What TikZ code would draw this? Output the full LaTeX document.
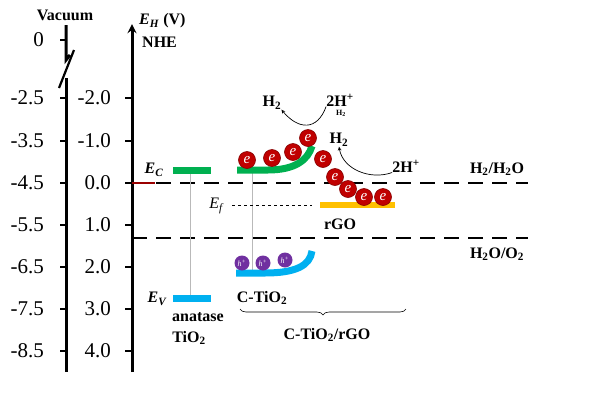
\documentclass[tikz,border=0pt]{standalone}
\usepackage{fontspec}
\setmainfont{Liberation Serif}
\usetikzlibrary{positioning,decorations.pathreplacing}
\tikzset{>=stealth}
\definecolor{cbGreen}{RGB}{0,176,80}
\definecolor{vbBlue}{RGB}{0,176,240}
\definecolor{rgoOrange}{RGB}{255,192,0}
\definecolor{elecRed}{RGB}{192,0,0}
\definecolor{holePurple}{RGB}{112,48,160}
\colorlet{penColor}{black}
\tikzset{
  axis/.style={penColor, line width=3pt},
  tick/.style={penColor, line width=2.2pt},
  ticklab/.style={anchor=east, inner sep=0pt, font=\fontsize{21}{21}\selectfont},
  lab/.style={inner sep=0pt, font=\fontsize{16}{16}\selectfont\bfseries},
  redox/.style={penColor, line width=2.6pt, dash pattern=on 15pt off 9pt},
  band/.style={line width=7pt},
  elec/.style={circle, fill=elecRed, draw=elecRed!70!black, line width=0.6pt, minimum size=17pt, inner sep=0pt, text=white, font=\fontsize{15}{15}\selectfont\itshape},
  hole/.style={circle, fill=holePurple, minimum size=15pt, inner sep=0pt, text=white, font=\fontsize{8}{8}\selectfont\itshape},
}
\begin{document}
\begin{tikzpicture}[x=1pt,y=-1pt]
\useasboundingbox (0,0) rectangle (598,397);
% vacuum scale with break
\draw[axis] (66,25) -- (66,60) -- (70,55);
\draw[axis, line width=2.2pt] (74,50) -- (59,88);
\draw[axis] (66,78) -- (66,372);
\draw[tick] (60,40) -- (66,40);
\node[ticklab] (v0) at (44,40) {0};
\foreach \y/\lab in {98/-2.5,141/-3.5,183/-4.5,225/-5.5,267/-6.5,309/-7.5,351/-8.5}{
  \draw[tick] (60,\y) -- (66,\y);
  \node[ticklab] at (44,\y) {\lab};
}
\node[lab] (vac) at (65,15) {Vacuum};
% NHE scale
\draw[axis,->] (132,372) -- (132,24);
\foreach \y/\lab in {98/-2.0,141/-1.0,183/0.0,225/1.0,267/2.0,309/3.0,351/4.0}{
  \draw[tick] (125,\y) -- (132,\y);
  \node[ticklab] at (111,\y) {\lab};
}
\node[lab, anchor=west] (eh) at (139,21) {\textit{E}\textsubscript{\textit{H}} (V)};
\node[lab, anchor=west] (nhe) at (142,42) {NHE};
% redox levels
\draw[redox] (132,183) -- (528,183);
\draw[elecRed!80!black, line width=2pt] (132,183) -- (155,183);
\draw[redox] (132,238) -- (528,238);
\node[lab] (h2h2o) at (497,169) {H\textsubscript{2}/H\textsubscript{2}O};
\node[lab] (h2oo2) at (497,254) {H\textsubscript{2}O/O\textsubscript{2}};
% guide lines
\draw[gray!55, line width=0.6pt] (190,170) -- (190,298);
\draw[gray!55, line width=0.6pt] (252,170) -- (252,272);
% anatase bands
\draw[band, cbGreen] (173,170) -- (211,170);
\draw[band, vbBlue] (173,298) -- (211,298);
\node[lab, font=\fontsize{16}{16}\selectfont\bfseries\itshape] (ec) at (154,170) {E\textsubscript{C}};
\node[lab, font=\fontsize{16}{16}\selectfont\bfseries\itshape] (ev) at (157,299) {E\textsubscript{V}};
\node[lab] (ana) at (198,317) {anatase};
\node[lab] (tio) at (189,338) {TiO\textsubscript{2}};
% C-TiO2 bands
\draw[band, cbGreen] (237,170) -- (268,170) .. controls (295,170) and (308,160) .. (312,146);
\draw[band, vbBlue] (236,273) -- (265,273) .. controls (295,273) and (310,266) .. (312,251);
\node[lab] (ctio) at (262,298) {C-TiO\textsubscript{2}};
% rGO
\draw[penColor, dashed, line width=0.7pt] (232,205) -- (312,205);
\node[inner sep=0pt, font=\fontsize{16}{16}\selectfont\itshape] (ef) at (216,206) {E\textsubscript{f}};
\draw[rgoOrange, line width=6pt] (320,205) -- (395,205);
\node[lab] (rgo) at (340,224) {rGO};
% electrons
\foreach \x/\y [count=\i] in {247/160,272/158,293/152,308/138,323/159,335/177,348/189,364/197,383/197}
  \node[elec] (e\i) at (\x,\y) {e};
% holes
\foreach \x/\y [count=\i] in {242/263,263/263,285/260}
  \node[hole] (h\i) at (\x,\y) {h\textsuperscript{+}};
% hydrogen evolution
\node[lab] (htwoA) at (272,103) {H\textsubscript{2}};
\node[lab] (hplusA) at (340,100) {2H\textsuperscript{+}};
\node[inner sep=0pt, font=\fontsize{8}{8}\selectfont\bfseries] (hsmall) at (341,113) {H\textsubscript{2}};
\draw[->, line width=0.7pt] (hplusA.south west) to[out=-110,in=-50,looseness=1.5] (htwoA.south east);
\node[lab] (htwoB) at (339,140) {H\textsubscript{2}};
\node[lab] (hplusB) at (406,166) {2H\textsuperscript{+}};
\draw[->, line width=0.7pt] (hplusB.south west) to[out=200,in=-80] (htwoB.south);
% composite brace
\coordinate (braceL) at (240,309);
\coordinate (braceR) at (406,309);
\draw[penColor, line width=0.6pt, decorate, decoration={brace, mirror, amplitude=6pt}] (braceL) -- (braceR);
\node[lab] (comp) at (327,335) {C-TiO\textsubscript{2}/rGO};
\end{tikzpicture}
\end{document}
